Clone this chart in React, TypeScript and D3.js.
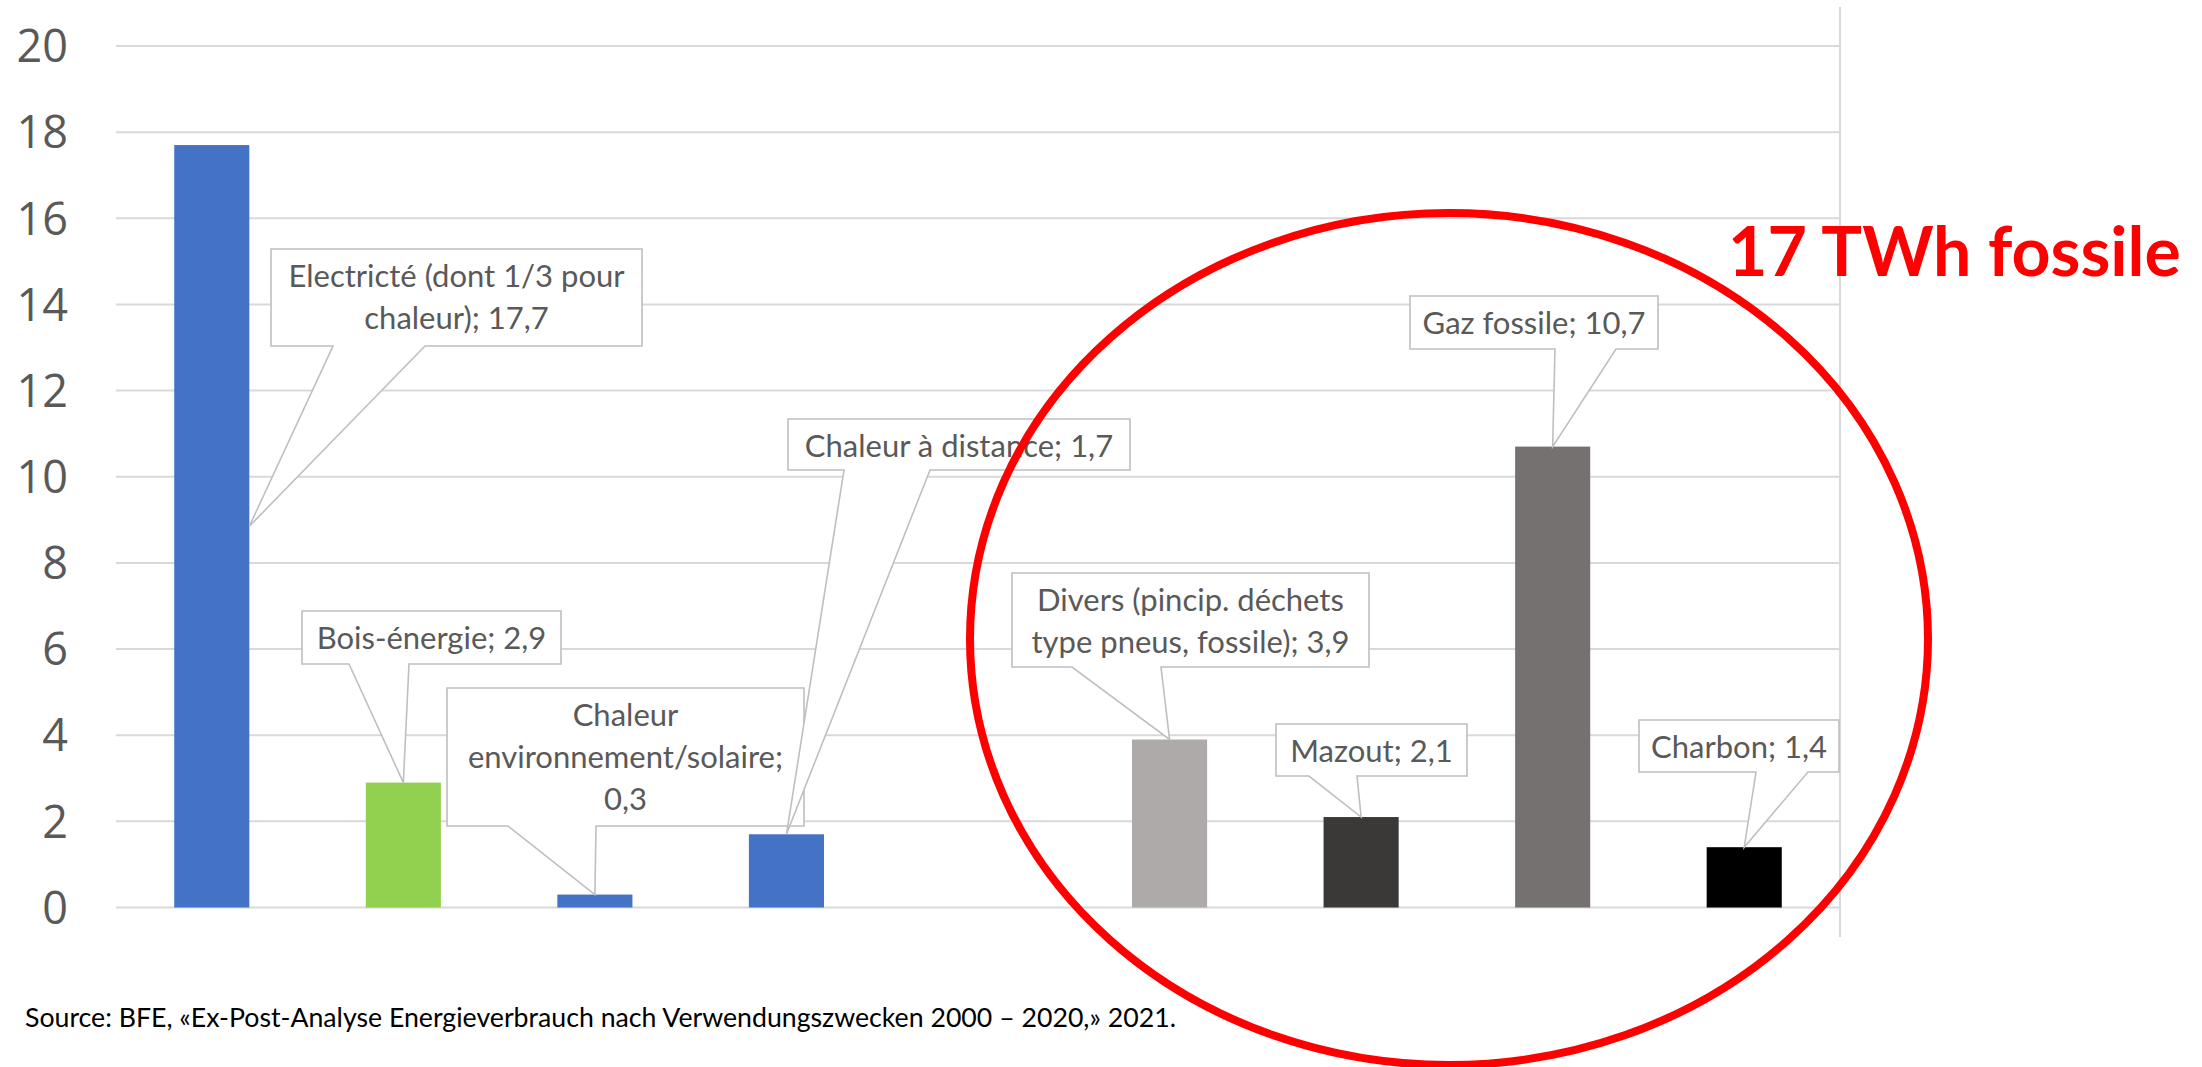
import React, { useEffect } from "react";
import * as d3 from "d3";

// Heat supply by energy carrier, TWh
const categories = [
  "Electricté (dont 1/3 pour chaleur)",
  "Bois-énergie",
  "Chaleur environnement/solaire",
  "Chaleur à distance",
  "",
  "Divers (pincip. déchets type pneus, fossile)",
  "Mazout",
  "Gaz fossile",
  "Charbon",
];
const valuesTWh: (number | null)[] = [17.7, 2.9, 0.3, 1.7, null, 3.9, 2.1, 10.7, 1.4];
const barColors = ["#4472C4", "#92D050", "#4472C4", "#4472C4", "none", "#AEAAAA", "#3B3838", "#767171", "#000000"];
const yTicks = [0, 2, 4, 6, 8, 10, 12, 14, 16, 18, 20];
const sourceNote = "Source: BFE, «Ex-Post-Analyse Energieverbrauch nach Verwendungszwecken 2000 – 2020,» 2021.";
const highlightText = "17 TWh fossile";

// Callout boxes: [x, y, width, height], pointer base on the bottom edge, word breaks
const callouts = [
  { i: 0, box: [271, 249, 371, 97], base: [333, 425], breaks: [4], side: true },
  { i: 1, box: [302, 611, 259, 53], base: [349, 409], breaks: [] },
  { i: 2, box: [447, 688, 357, 138], base: [508, 596], breaks: [1, 2] },
  { i: 3, box: [788, 419, 342, 51], base: [844, 930], breaks: [] },
  { i: 5, box: [1012, 573, 357, 94], base: [1072, 1161], breaks: [3] },
  { i: 6, box: [1276, 724, 191, 52], base: [1309, 1357], breaks: [] },
  { i: 7, box: [1410, 296, 248, 53], base: [1555, 1616], breaks: [] },
  { i: 8, box: [1639, 720, 200, 52], base: [1756, 1808], breaks: [] },
];

const W = 2202;
const H = 1067;
const frLocale = d3.formatLocale({ decimal: ",", thousands: " ", grouping: [3], currency: ["", " CHF"] });
const fmt = frLocale.format(".1f");

export default function App() {
  useEffect(() => {
    document.body.style.margin = "0";
  }, []);

  const x = d3
    .scaleBand<number>()
    .domain(categories.map((_, i) => i))
    .range([116, 1840])
    .paddingInner(0.608)
    .paddingOuter(0.304);
  const y = d3.scaleLinear().domain([0, 20]).range([907.5, 46]);

  const labelFont = "Lato, 'Open Sans', sans-serif";

  return (
    <svg width={W} height={H} style={{ display: "block", background: "#fff" }}>
      {/* gridlines */}
      {yTicks.map((t) => (
        <line key={t} x1={116} x2={1840} y1={y(t)} y2={y(t)} stroke="#D9D9D9" strokeWidth={2} />
      ))}
      <line x1={1840} x2={1840} y1={7} y2={937} stroke="#D9D9D9" strokeWidth={2} />

      {/* bars */}
      {valuesTWh.map((v, i) =>
        v == null ? null : (
          <rect key={i} x={x(i)} y={y(v)} width={x.bandwidth()} height={y(0) - y(v)} fill={barColors[i]} />
        )
      )}

      {/* y axis labels */}
      {yTicks.map((t) => (
        <text
          key={t}
          x={68}
          y={y(t)}
          dy="0.36em"
          textAnchor="end"
          fontFamily="'Open Sans', sans-serif"
          fontSize={45}
          fill="#595959"
        >
          {t}
        </text>
      ))}

      {/* data callouts */}
      {callouts.map((c) => {
        const v = valuesTWh[c.i] as number;
        const [bx, by, bw, bh] = c.box;
        const bottom = by + bh;
        const tipX = c.side ? (x(c.i) as number) + x.bandwidth() : (x(c.i) as number) + x.bandwidth() / 2;
        const tipY = c.side ? y(v / 2) : y(v);
        const path = `M${bx},${by}H${bx + bw}V${bottom}H${c.base[1]}L${tipX},${tipY}L${c.base[0]},${bottom}H${bx}Z`;
        const words = `${categories[c.i]}; ${fmt(v)}`.split(" ");
        const lines: string[] = [];
        let start = 0;
        [...c.breaks, words.length].forEach((b) => {
          lines.push(words.slice(start, b).join(" "));
          start = b;
        });
        return (
          <g key={c.i}>
            <path d={path} fill="#fff" stroke="#BFBFBF" strokeWidth={1.6} />
            {lines.map((ln, k) => (
              <text
                key={k}
                x={bx + bw / 2}
                y={by + 37.5 + k * 42}
                textAnchor="middle"
                fontFamily={labelFont}
                fontSize={31}
                fill="#595959"
              >
                {ln}
              </text>
            ))}
          </g>
        );
      })}

      {/* source */}
      <text x={25} y={1027} fontFamily={labelFont} fontSize={26.7} fill="#000">
        {sourceNote}
      </text>

      {/* fossile highlight */}
      <ellipse cx={1449} cy={639} rx={479} ry={426} fill="none" stroke="#FF0000" strokeWidth={8} />
      <text x={1728} y={276} fontFamily={labelFont} fontWeight={700} fontSize={68} fill="#FF0000">
        {highlightText}
      </text>
    </svg>
  );
}
